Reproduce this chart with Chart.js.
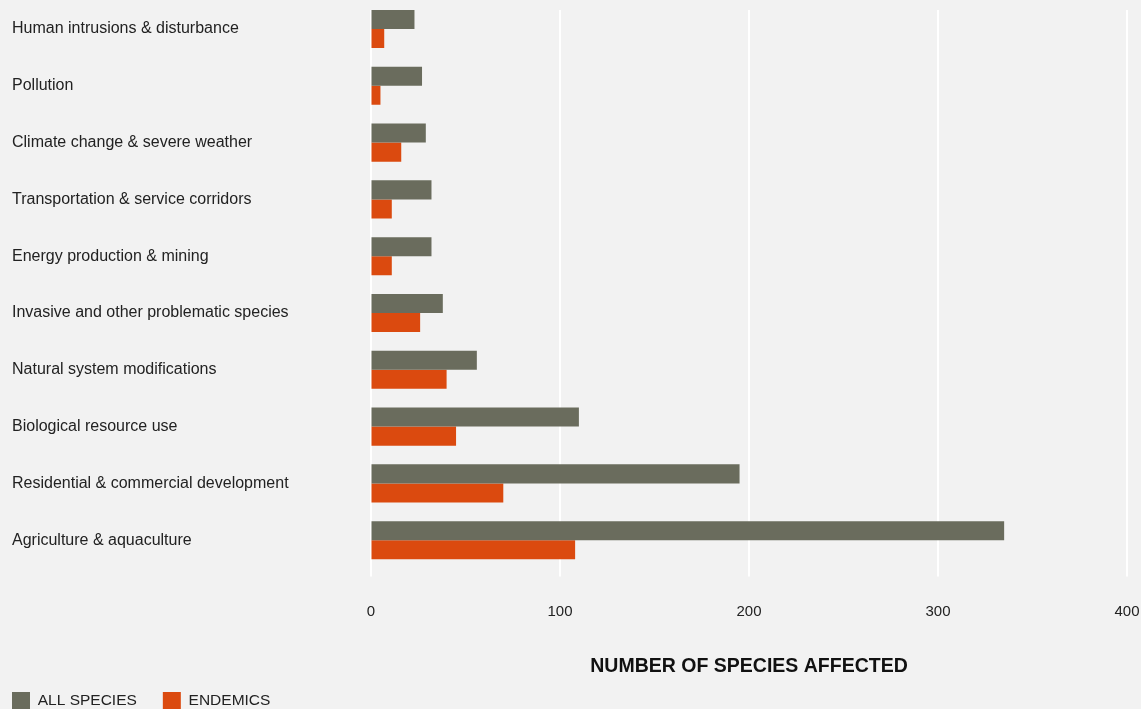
<!DOCTYPE html>
<html>
<head>
<meta charset="utf-8">
<script src="https://cdn.jsdelivr.net/npm/chart.js@4/dist/chart.umd.min.js"></script>
<style>
  html, body { margin: 0; padding: 0; background: #f2f2f2; overflow: hidden; }
  #wrap { position: relative; width: 1141px; height: 744px; margin-top: -9px; }
</style>
</head>
<body>
<div id="wrap"><canvas id="grafico_amenazas"></canvas></div>
<script>
// categorias (de arriba hacia abajo)
const amenazas = [
    "Human intrusions & disturbance",
    "Pollution",
    "Climate change & severe weather",
    "Transportation & service corridors",
    "Energy production & mining",
    "Invasive and other problematic species",
    "Natural system modifications",
    "Biological resource use",
    "Residential & commercial development",
    "Agriculture & aquaculture"
]

const todasEspecies = [23, 27, 29, 32, 32, 38, 56, 110, 195, 335]
const endemicas = [7, 5, 16, 11, 11, 26, 40, 45, 70, 108]

const nombresSeries = ["ALL SPECIES", "ENDEMICS"]
const tituloX = "NUMBER OF SPECIES AFFECTED"
const ticksX = [0, 100, 200, 300, 400]

const colorGris = '#6a6c5d'
const colorNaranja = '#db4a0f'
const fuente = "'Liberation Sans', Arial, Helvetica, sans-serif"

// lineas verticales blancas (van desde la primera barra hasta un poco debajo del area)
const lineasGrid = {
    id: 'lineasGrid',
    beforeDatasetsDraw(chart) {
        const x = chart.scales.x
        const area = chart.chartArea
        const primera = chart.getDatasetMeta(0).data[0]
        const arriba = primera.y - primera.height / 2
        const abajo = area.bottom + 8
        const ctx = chart.ctx
        ctx.save()
        ctx.strokeStyle = '#ffffff'
        ctx.lineWidth = 2
        ticksX.forEach(v => {
            const px = Math.round(x.getPixelForValue(v))
            ctx.beginPath()
            ctx.moveTo(px, arriba)
            ctx.lineTo(px, abajo)
            ctx.stroke()
        })
        ctx.restore()
    }
}

// la leyenda arranca pegada al margen izquierdo y un poco mas arriba
const leyendaIzq = {
    id: 'leyendaIzq',
    afterLayout(chart) {
        chart.legend.left -= 26
        chart.legend.top -= 15
    }
}

graficoBarrasH('grafico_amenazas')

function graficoBarrasH(id) {
    const ctx = document.getElementById(id).getContext('2d')

    const data = {
        labels: amenazas,
        datasets: [{
            label: nombresSeries[0],
            data: todasEspecies,
            backgroundColor: colorGris,
            categoryPercentage: 0.67,
            barPercentage: 1
        }, {
            label: nombresSeries[1],
            data: endemicas,
            backgroundColor: colorNaranja,
            categoryPercentage: 0.67,
            barPercentage: 1
        }]
    }

    const options = {
        responsive: true,
        maintainAspectRatio: false,
        animation: false,
        indexAxis: 'y',
        layout: { padding: { left: 12, right: 14, top: 1, bottom: 0 } },
        scales: {
            x: {
                min: 0,
                max: 400,
                afterBuildTicks: (s) => { s.ticks = ticksX.map(v => ({ value: v })) },
                border: { display: false },
                grid: { display: true, color: 'rgba(0,0,0,0)', drawOnChartArea: false, drawTicks: true, tickLength: 34 },
                ticks: {
                    padding: 0,
                    color: '#222',
                    font: { family: fuente, size: 15 }
                },
                title: {
                    display: true,
                    text: tituloX,
                    color: '#111',
                    padding: { top: 34, bottom: 3 },
                    font: { family: fuente, size: 19.5, weight: 'bold' }
                }
            },
            y: {
                border: { display: false },
                grid: { display: false, drawTicks: false },
                afterFit: (s) => { s.width = 359 },
                ticks: {
                    crossAlign: 'far',
                    padding: 0,
                    color: '#222',
                    font: { family: fuente, size: 16 }
                }
            }
        },
        plugins: {
            legend: {
                display: true,
                position: 'bottom',
                align: 'start',
                labels: {
                    boxWidth: 18,
                    boxHeight: 18,
                    padding: 26,
                    color: '#222',
                    font: { family: fuente, size: 15.5 }
                }
            },
            tooltip: { enabled: false }
        }
    }

    new Chart(ctx, { type: 'bar', data, options, plugins: [lineasGrid, leyendaIzq] })
}
</script>
</body>
</html>
